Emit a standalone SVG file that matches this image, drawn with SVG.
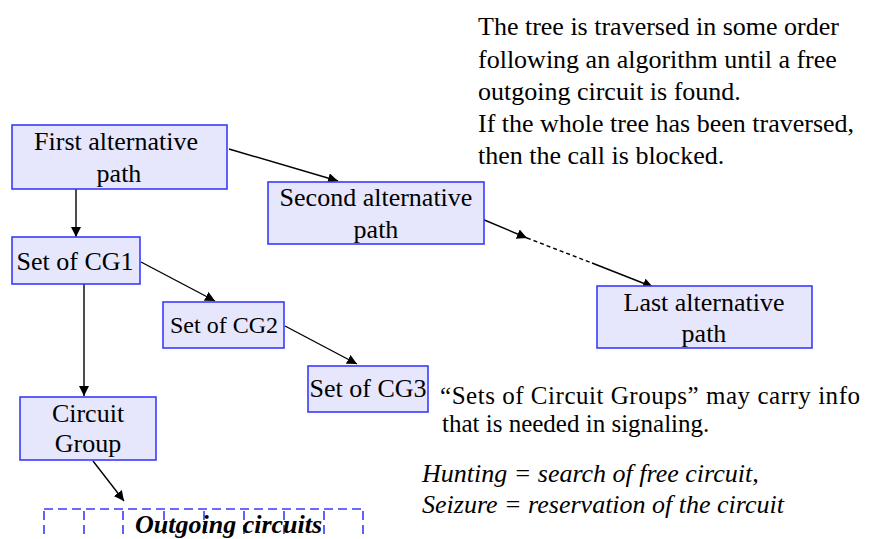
<svg xmlns="http://www.w3.org/2000/svg" width="871" height="539" viewBox="0 0 871 539">
<defs>
<style>
.box{fill:#e6e6fc;stroke:#3a3aff;stroke-width:1.6}
.t{font-family:'Liberation Serif','Times New Roman','DejaVu Serif',serif;font-size:26px;fill:#000}
.c{text-anchor:middle}
.it{font-style:italic}
.ln{stroke:#000;stroke-width:1.4;fill:none}
.dash{stroke-dasharray:4,3}
.og{stroke:#3a3aff;stroke-width:1.6;stroke-dasharray:9,5;fill:none}
</style>
<marker id="ah" viewBox="0 0 10 10" refX="10" refY="5" markerWidth="10" markerHeight="10" markerUnits="userSpaceOnUse" orient="auto">
<path d="M0,0 L10,5 L0,10 z" fill="#000"/>
</marker>
</defs>
<rect width="871" height="539" fill="#fff"/>

<g id="connectors">
<line class="ln" x1="76" y1="189" x2="76" y2="237" marker-end="url(#ah)"/>
<line class="ln" x1="229" y1="149" x2="338" y2="181" marker-end="url(#ah)"/>
<line class="ln" x1="482" y1="219" x2="527" y2="238" marker-end="url(#ah)"/>
<line class="ln dash" x1="527" y1="238" x2="592" y2="263"/>
<line class="ln" x1="592" y1="263" x2="653" y2="287" marker-end="url(#ah)"/>
<line class="ln" x1="141" y1="262" x2="215" y2="301" marker-end="url(#ah)"/>
<line class="ln" x1="84" y1="284" x2="84" y2="396" marker-end="url(#ah)"/>
<line class="ln" x1="285" y1="326" x2="357" y2="364" marker-end="url(#ah)"/>
<line class="ln" x1="93" y1="461" x2="124" y2="501" marker-end="url(#ah)"/>
</g>

<g font-family="Liberation Serif, serif">
<g id="first">
<rect class="box" x="12" y="125" width="215" height="64"/>
<text class="t c" x="116" y="150">First alternative</text>
<text class="t c" x="119" y="182">path</text>
</g>
<g id="second">
<rect class="box" x="268" y="182" width="216" height="62"/>
<text class="t c" x="376" y="206">Second alternative</text>
<text class="t c" x="376" y="238">path</text>
</g>
<g id="last">
<rect class="box" x="597" y="286" width="215" height="62"/>
<text class="t c" x="704" y="311">Last alternative</text>
<text class="t c" x="704" y="342">path</text>
</g>
<g id="cg1">
<rect class="box" x="12" y="237" width="128" height="47"/>
<text class="t c" x="75" y="270">Set of CG1</text>
</g>
<g id="cg2">
<rect class="box" x="163" y="302" width="121" height="46"/>
<text class="t c" x="224" y="333" style="font-size:24px">Set of CG2</text>
</g>
<g id="cg3">
<rect class="box" x="308" y="366" width="120" height="46"/>
<text class="t c" x="368" y="397">Set of CG3</text>
</g>
<g id="circuitgroup">
<rect class="box" x="20" y="397" width="136" height="63"/>
<text class="t c" x="88" y="422">Circuit</text>
<text class="t c" x="88" y="452">Group</text>
</g>
<g id="outgoing">
<line class="og" x1="44" y1="509" x2="363" y2="509"/>
<line class="og" x1="44" y1="511" x2="44" y2="539"/>
<line class="og" x1="84" y1="511" x2="84" y2="539"/>
<line class="og" x1="123" y1="511" x2="123" y2="539"/>
<line class="og" x1="164" y1="511" x2="164" y2="539"/>
<line class="og" x1="204" y1="511" x2="204" y2="539"/>
<line class="og" x1="244" y1="511" x2="244" y2="539"/>
<line class="og" x1="284" y1="511" x2="284" y2="539"/>
<line class="og" x1="324" y1="511" x2="324" y2="539"/>
<line class="og" x1="363" y1="511" x2="363" y2="539"/>
<text class="t it" x="135" y="533" style="font-weight:bold">Outgoing circuits</text>
</g>

<g id="notes">
<text class="t" x="478" y="35">The tree is traversed in some order</text>
<text class="t" x="478" y="68">following an algorithm until a free</text>
<text class="t" x="478" y="100">outgoing circuit is found.</text>
<text class="t" x="478" y="132">If the whole tree has been traversed,</text>
<text class="t" x="478" y="164">then the call is blocked.</text>
<text class="t" x="440" y="404" style="font-size:25px" textLength="420" lengthAdjust="spacing">“Sets of Circuit Groups” may carry info</text>
<text class="t" x="442" y="432" style="font-size:25px">that is needed in signaling.</text>
<text class="t it" x="422" y="482">Hunting = search of free circuit,</text>
<text class="t it" x="422" y="513">Seizure = reservation of the circuit</text>
</g>
</g>
</svg>
